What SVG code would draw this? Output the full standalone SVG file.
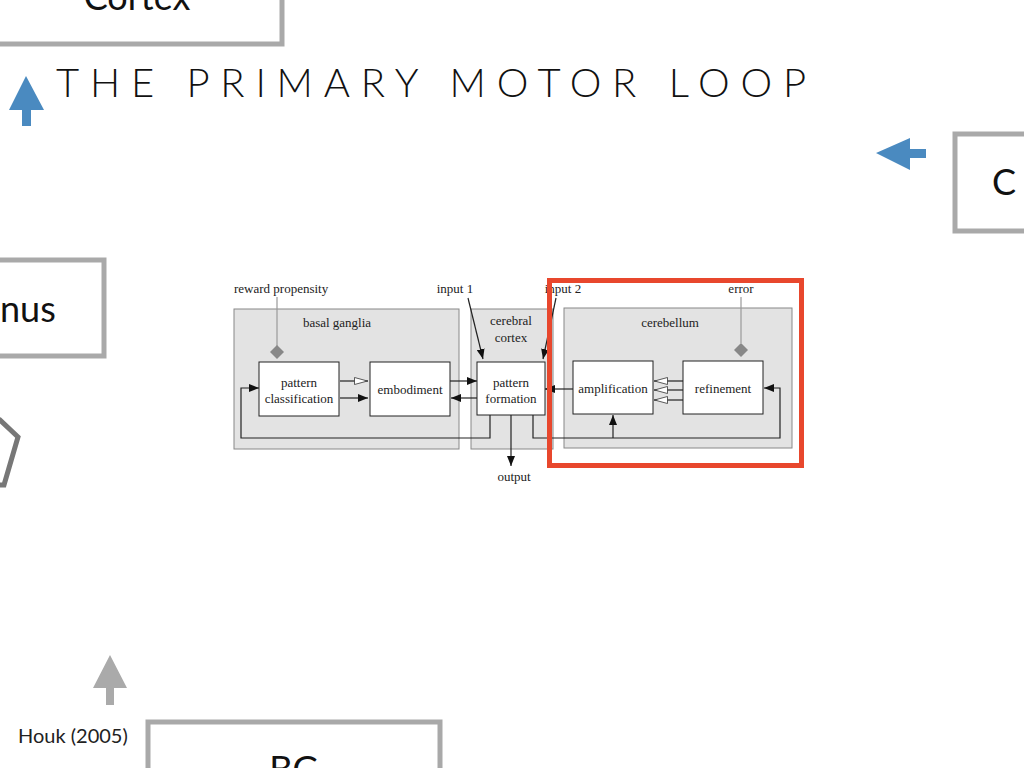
<svg xmlns="http://www.w3.org/2000/svg" width="1024" height="768" viewBox="0 0 1024 768">
<style>
.slide{fill:#fff;stroke:#a9a9a9;stroke-width:5}
.big{font-family:"Lato","Liberation Sans",sans-serif;font-size:36px;fill:#111}
.reg{fill:#e3e3e3;stroke:#888;stroke-width:1}
.box{fill:#fff;stroke:#222;stroke-width:1}
.t{font-family:"Liberation Serif","DejaVu Serif","Times New Roman",serif;font-size:13px;fill:#222;text-anchor:middle}
.ts{font-family:"Liberation Serif","DejaVu Serif","Times New Roman",serif;font-size:13px;fill:#222;text-anchor:start}
.ln{fill:none;stroke:#222;stroke-width:1.2}
.gl{fill:none;stroke:#999;stroke-width:1.2}
</style>
<defs>
<marker id="f" markerWidth="10" markerHeight="8" refX="10" refY="4" orient="auto" markerUnits="userSpaceOnUse"><path d="M0,0 L10,4 L0,8 Z" fill="#111"/></marker>
<marker id="o" markerWidth="14" markerHeight="8" refX="14" refY="4" orient="auto" markerUnits="userSpaceOnUse"><path d="M0.5,0.5 L13.5,4 L0.5,7.5 Z" fill="#fff" stroke="#333" stroke-width="0.8"/></marker>
</defs>
<rect width="1024" height="768" fill="#fff"/>
<g id="slide-bg">
<rect class="slide" x="-20" y="-40" width="302" height="84"/>
<text class="big" x="137" y="10" text-anchor="middle">Cortex</text>
<rect class="slide" x="-20" y="260" width="124" height="96"/>
<text class="big" x="0" y="322">nus</text>
<path d="M-20,425 L0,420 L18,437 L4,485 L-20,485" fill="none" stroke="#777" stroke-width="5"/>
<rect class="slide" x="955" y="134" width="100" height="97"/>
<text class="big" x="992" y="195">C</text>
<rect class="slide" x="148" y="722" width="292" height="80"/>
<text class="big" x="294" y="782" text-anchor="middle">BG</text>
<path d="M22,126 L22,110 L9,110 L26,76 L44,110 L31,110 L31,126 Z" fill="#4a8ac0"/>
<path d="M926,149 L910,149 L910,138 L876,153 L910,170 L910,158 L926,158 Z" fill="#4a8ac0"/>
<path d="M106,705 L106,688 L93,688 L110,655 L127,688 L114,688 L114,705 Z" fill="#aaa"/>
<text x="18" y="743" font-family="Lato,'Liberation Sans',sans-serif" font-size="20" fill="#222">Houk (2005)</text>
<text x="56" y="97" font-family="Lato,'Liberation Sans',sans-serif" font-weight="300" font-size="40" fill="#111" textLength="750" lengthAdjust="spacing">THE PRIMARY MOTOR LOOP</text>
</g>
<g id="regions">
<rect class="reg" x="234" y="309" width="225" height="140"/>
<rect class="reg" x="471" y="309" width="82" height="140"/>
<rect class="reg" x="564" y="308" width="228" height="140"/>
<text class="t" x="337" y="327">basal ganglia</text>
<text class="t" x="511" y="325">cerebral</text>
<text class="t" x="511" y="342">cortex</text>
<text class="t" x="670" y="327">cerebellum</text>
</g>
<g id="connectors">
<path class="gl" d="M277,297 V346"/>
<path d="M277,345 L284,352 L277,359 L270,352 Z" fill="#888"/>
<path class="gl" d="M741,297 V343"/>
<path d="M741,343 L748,350 L741,357 L734,350 Z" fill="#888"/>
<path class="ln" d="M468,298 L483,359" marker-end="url(#f)"/>
<path class="ln" d="M556,298 L543,359" marker-end="url(#f)"/>
<path class="ln" d="M340,381 H368" marker-end="url(#o)"/>
<path class="ln" d="M340,398 H368" marker-end="url(#f)"/>
<path class="ln" d="M450,381 H477" marker-end="url(#f)"/>
<path class="ln" d="M477,398 H451" marker-end="url(#f)"/>
<path class="ln" d="M490,415 V438 H241 V388 H259" marker-end="url(#f)"/>
<path class="ln" d="M511,415 V466" marker-end="url(#f)"/>
<path class="ln" d="M533,415 V438 H780 V388 H764" marker-end="url(#f)"/>
<path class="ln" d="M613,438 V415" marker-end="url(#f)"/>
<path class="ln" d="M573,389 H545" marker-end="url(#f)"/>
<path class="ln" d="M683,381 H654" marker-end="url(#o)"/>
<path class="ln" d="M683,390 H654" marker-end="url(#o)"/>
<path class="ln" d="M683,400 H654" marker-end="url(#o)"/>
</g>
<g id="n-class"><rect class="box" x="259" y="362" width="80" height="54"/><text class="t" x="299" y="387">pattern</text><text class="t" x="299" y="403">classification</text></g>
<g id="n-embod"><rect class="box" x="370" y="362" width="80" height="54"/><text class="t" x="410" y="394">embodiment</text></g>
<g id="n-form"><rect class="box" x="477" y="362" width="68" height="53"/><text class="t" x="511" y="387">pattern</text><text class="t" x="511" y="403">formation</text></g>
<g id="n-amp"><rect class="box" x="573" y="361" width="80" height="53"/><text class="t" x="613" y="393">amplification</text></g>
<g id="n-ref"><rect class="box" x="683" y="361" width="80" height="53"/><text class="t" x="723" y="393">refinement</text></g>
<g id="labels">
<text class="ts" x="234" y="293">reward propensity</text>
<text class="t" x="455" y="293">input 1</text>
<text class="t" x="563" y="293">input 2</text>
<text class="t" x="741" y="293">error</text>
<text class="t" x="514" y="481">output</text>
</g>
<rect id="highlight" x="549.5" y="280.5" width="252" height="185" fill="none" stroke="#e8472d" stroke-width="5"/>
</svg>
